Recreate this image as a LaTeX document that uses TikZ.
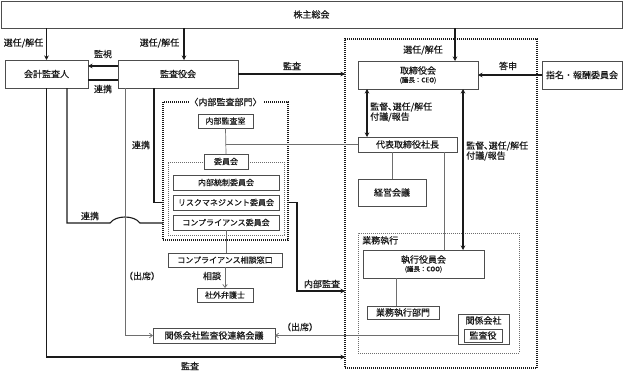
\documentclass[tikz,border=0pt]{standalone}
\usepackage{fontspec}
\newfontfamily\jpfont{Noto Sans CJK JP}[FakeBold=0.35]
\usepackage{tikz}
\usetikzlibrary{positioning,arrows.meta,calc}
\definecolor{ink}  {HTML}{1A1A1A}
\definecolor{rule} {HTML}{4D4D4D}
\definecolor{thin} {HTML}{6E6E6E}
\newcommand\chairtxt[1]{{\jpfont\fontsize{6.5}{7.5}\selectfont #1}}
\tikzset{
  >={Stealth[length=4.5pt,width=4.5pt]},
  every node/.style={font=\jpfont\fontsize{9}{10}\selectfont, text=ink},
  % --- nodes
  sz/.style 2 args = {minimum width=#1pt, minimum height=#2pt},
  box/.style   = {draw=rule, fill=white, line width=0.8pt, inner sep=0pt,
                  outer sep=0pt, align=center},
  sbox/.style  = {box, font=\jpfont\fontsize{8}{9}\selectfont},
  grp/.style   = {draw=ink, dash pattern=on 1pt off 1pt, line width=1.1pt,
                  inner sep=0pt, outer sep=0pt},
  sgrp/.style  = {draw=thin, dash pattern=on 0.8pt off 1.2pt, line width=0.8pt,
                  inner sep=0pt, outer sep=0pt},
  lbl/.style   = {inner sep=1pt},
  % --- edges
  e/.style     = {->, line width=1.1pt, draw=ink},
  l/.style     = {line width=1.1pt, draw=ink},
  ethin/.style = {-{Straight Barb[length=3pt,width=4.5pt]}, line width=0.7pt, draw=thin},
  lthin/.style = {line width=0.7pt, draw=thin},
}
\begin{document}
\begin{tikzpicture}[x=1pt,y=-1pt]
  \useasboundingbox (0,0) rectangle (624,372);

  % groups
  \node[grp,  sz={192}{329}] (board) at (441,203.5) {};
  \node[sgrp, sz={161}{120}] (exec)  at (438.5,293) {};
  \node[grp,  sz={125}{138}] (iagrp) at (225.5,171) {};
  \node[sgrp, sz={116}{73}]  (cmgrp) at (226,198.5) {};
  \node[lbl, fill=white] (iatitle) at (iagrp.north) {〈内部監査部門〉};
  \node[lbl, anchor=north west] (exectitle) at ([xshift=3pt,yshift=-2pt]exec.north west) {業務執行};

  % boxes
  \node[box, sz={621}{27}]  (sh)     at (311.5,14.5) {株主総会};
  \node[box, sz={83}{28}]   (kaikei) at (46.5,74)    {会計監査人};
  \node[box, sz={120}{28}]  (kansa)  at (178,74)     {監査役会};
  \node[box, sz={120}{28}]  (torishimari) at (418,75) {取締役会\\[-1.5pt]\chairtxt{(議長：CEO)}};
  \node[box, sz={80}{28}]   (shimei) at (582,75)     {指名・報酬委員会};
  \node[box, sz={99}{15}]   (shacho) at (407.5,144.5) {代表取締役社長};
  \node[box, sz={68}{27}]   (keiei)  at (392,192.5)  {経営会議};
  \node[box, sz={121}{28}]  (shikko) at (423.5,264)  {執行役員会\\[-1.5pt]\chairtxt{(議長：COO)}};
  \node[box, sz={72}{13}]   (bumon)  at (403,312.5)  {業務執行部門};
  \node[box, sz={51}{30}]   (kankei) at (483.5,329)  {};
  \node[lbl] (kankeititle) at (483.5,320.5) {関係会社};
  \node[box, sz={38}{13}]   (kankeikansa) at (483,335.5) {監査役};
  \node[box, sz={122}{15}]  (renraku) at (214,335.5) {関係会社監査役連絡会議};

  \node[sbox, sz={55}{14}]  (naibu)  at (225.5,121)  {内部監査室};
  \node[sbox, sz={44}{15}]  (iinkai) at (226,161.5)  {委員会};
  \node[sbox, sz={106}{15}] (tosei)  at (226,182.5)  {内部統制委員会};
  \node[sbox, sz={106}{15}] (risk)   at (226,202.5)  {リスクマネジメント委員会};
  \node[sbox, sz={106}{15}] (comp)   at (226,222.5)  {コンプライアンス委員会};
  \node[sbox, sz={114}{14}] (madoguchi) at (225,260) {コンプライアンス相談窓口};
  \node[sbox, sz={56}{14}]  (bengoshi)  at (225,295) {社外弁護士};

  % shareholders
  \draw[e] (kaikei.north |- sh.south) -- (kaikei.north);
  \draw[e] ([xshift=6pt]kansa.north |- sh.south) -- ([xshift=6pt]kansa.north);
  \draw[e] ([xshift=37pt]torishimari.north |- sh.south) -- ([xshift=37pt]torishimari.north);
  \node[lbl] (sen1) at (23.5,43)  {選任/解任};
  \node[lbl] (sen2) at (159.5,43) {選任/解任};
  \node[lbl] (sen3) at (423,50)   {選任/解任};

  % audit board
  \draw[e] ([yshift=8pt]kansa.west) -- ([yshift=8pt]kaikei.east);
  \draw[l] ([yshift=-6pt]kansa.west) -- ([yshift=-6pt]kaikei.east);
  \node[lbl] (kanshi) at (103,54) {監視};
  \node[lbl] (renkei1) at (103,89) {連携};
  \draw[e] (kansa.east) -- (kansa.east -| board.west);
  \node[lbl] (kansa1) at (292,66) {監査};
  \draw[e] (shimei.west) -- (torishimari.east);
  \node[lbl] (toshin) at (508,66) {答申};

  % board
  \draw[e, <->] ([xshift=-51pt]torishimari.south) -- ([xshift=-51pt]torishimari.south |- shacho.north);
  \draw[e, <->] ([xshift=45pt]torishimari.south) -- ([xshift=45pt]torishimari.south |- shikko.north);
  \node[lbl, anchor=west, align=left] (kantoku1) at (369,112) {監督､選任/解任\\付議/報告};
  \node[lbl, anchor=west, align=left] (kantoku2) at (465,151) {監督､選任/解任\\付議/報告};
  \draw[lthin] (shacho.south -| keiei.north) -- (keiei.north);
  \draw[lthin] ([xshift=36.5pt]shacho.south) -- ([xshift=36.5pt]shacho.south |- shikko.north);
  \draw[lthin] ([xshift=-7pt]bumon.north |- shikko.south) -- ([xshift=-7pt]bumon.north);

  % internal audit
  \draw[lthin] (naibu.south) -- (iinkai.north);
  \draw[lthin] (naibu.south |- shacho.west) -- (shacho.west);
  \draw[lthin] (comp.south) -- (madoguchi.north -| comp.south);
  \draw[ethin] (madoguchi.south -| bengoshi.north) -- (bengoshi.north);
  \node[lbl] (sodan) at (212,276) {相談};
  \draw[e] (iagrp.east |- risk) -- ++(9,0) |- ([yshift=-87.5pt]board.west);
  \node[lbl] (naibukansa) at (322,284) {内部監査};

  % cooperation
  \draw[l] ([xshift=-24pt]kansa.south) |- (iagrp.west |- risk);
  \node[lbl] (renkei2) at (141,145) {連携};
  \draw[l] ([xshift=20.5pt]kaikei.south) |- (110,223)
    .. controls (116,215) and (134,215) .. (140,223) -- (iagrp.west |- 0,223);
  \node[lbl] (renkei3) at (90,216) {連携};

  % attendance
  \draw[ethin] ([xshift=-53pt]kansa.south) |- (renraku.west);
  \node[lbl] (shusseki1) at (142,276) {（出席）};
  \draw[ethin] (kankei.west |- renraku.east) -- (renraku.east);
  \node[lbl] (shusseki2) at (300,327) {（出席）};

  % external audit
  \draw[e] (kaikei.south) |- ([yshift=11pt]board.south west);
  \node[lbl] (kansa2) at (190,366) {監査};
\end{tikzpicture}
\end{document}
